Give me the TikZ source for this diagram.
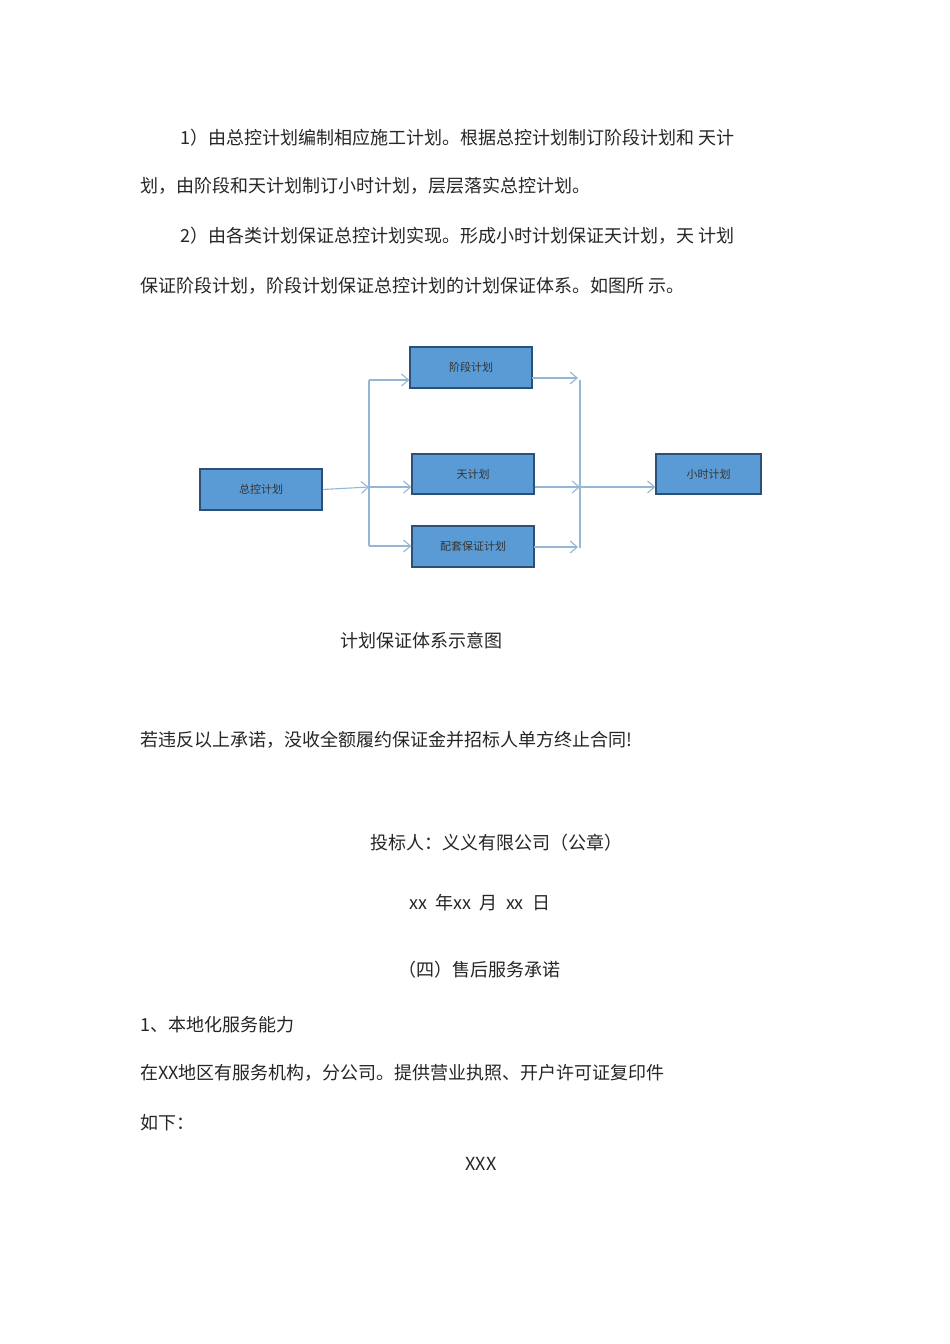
\documentclass[tikz,border=0pt]{standalone}
\usepackage{fontspec}
\setmainfont{Noto Sans CJK SC}
\usetikzlibrary{arrows.meta}
\definecolor{boxfill}{RGB}{91,155,213}
\definecolor{boxline}{RGB}{45,80,120}
\definecolor{arr}{RGB}{150,182,214}
\begin{document}
\begin{tikzpicture}[x=1pt,y=-1pt,
  txt/.style={anchor=west,inner sep=0pt,font=\fontsize{18}{18}\selectfont,text=black!85},
  ctxt/.style={inner sep=0pt,font=\fontsize{18}{18}\selectfont,text=black!85},
  box/.style={draw=boxline,line width=1.3pt,fill=boxfill,inner sep=0pt,font=\fontsize{11}{11}\selectfont,text=black!80},
  con/.style={draw=arr,line width=1.1pt},
  arw/.style={con,-{Straight Barb[length=7pt,width=12pt]}}]
\useasboundingbox[fill=white] (0,0) rectangle (950,1344);
\node[txt] (p1) at (180,138) {1）由总控计划编制相应施工计划。根据总控计划制订阶段计划和\ 天计};
\node[txt] (p2) at (140,186) {划，由阶段和天计划制订小时计划，层层落实总控计划。};
\node[txt] (p3) at (180,236) {2）由各类计划保证总控计划实现。形成小时计划保证天计划，天\ 计划};
\node[txt] (p4) at (140,286) {保证阶段计划，阶段计划保证总控计划的计划保证体系。如图所\ 示。};
\node[box,minimum width=122,minimum height=41] (zk) at (261,489.5) {总控计划};
\node[box,minimum width=122,minimum height=41] (jd) at (471,367.5) {阶段计划};
\node[box,minimum width=122,minimum height=40] (tj) at (473,474) {天计划};
\node[box,minimum width=122,minimum height=41] (pt) at (473,546.5) {配套保证计划};
\node[box,minimum width=105,minimum height=40] (xs) at (708.5,474) {小时计划};
\coordinate (lt) at (369,380);
\coordinate (lm) at (369,487);
\coordinate (lb) at (369,546);
\coordinate (rt) at (580,380);
\coordinate (rm) at (580,487);
\coordinate (rb) at (580,548);
\coordinate (jo) at (532,378);
\coordinate (ja) at (578,378);
\coordinate (po) at (534,547);
\coordinate (pa) at (578,547);
\draw[con] (lt) -- (lb);
\draw[con] (rt) -- (rb);
\draw[arw] (zk.east) -- (lm);
\draw[arw] (lt) -- (jd.west|-lt);
\draw[arw] (lm) -- (tj.west|-lm);
\draw[arw] (lb) -- (pt.west|-lb);
\draw[arw] (jo) -- (ja);
\draw[arw] (tj.east|-rm) -- (rm);
\draw[arw] (po) -- (pa);
\draw[arw] (rm) -- (xs.west|-rm);
\node[txt] (cap) at (340,641) {计划保证体系示意图};
\node[txt] (q1) at (140,740) {若违反以上承诺，没收全额履约保证金并招标人单方终止合同!};
\node[txt] (q2) at (370,843) {投标人：义义有限公司（公章）};
\node[ctxt] (q3) at (480,903) {xx\ \ 年xx\ \ 月\ \ xx\ \ 日};
\node[txt] (q4) at (398,970) {（四）售后服务承诺};
\node[txt] (q5) at (140,1025) {1、本地化服务能力};
\node[txt] (q6) at (140,1073) {在XX地区有服务机构，分公司。提供营业执照、开户许可证复印件};
\node[txt] (q7) at (140,1123) {如下：};
\node[ctxt] (q8) at (481,1164) {XXX};
\end{tikzpicture}
\end{document}
